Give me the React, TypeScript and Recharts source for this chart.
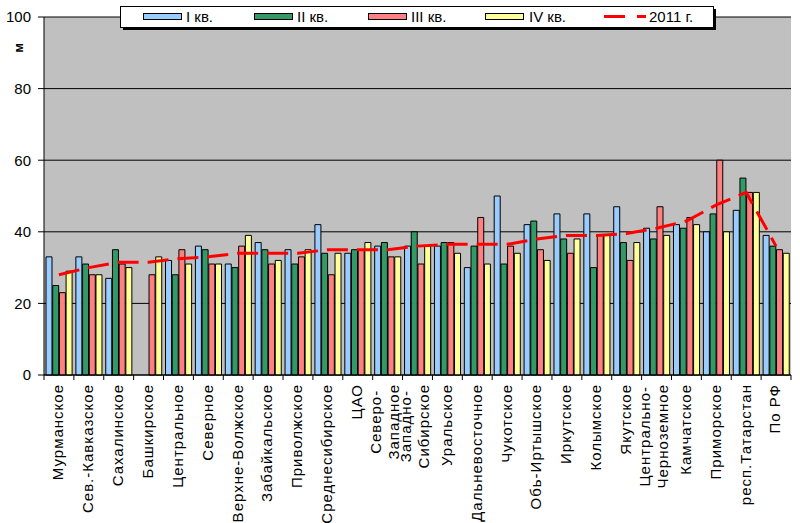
import React from 'react';
import { ComposedChart, Bar, Line, XAxis, YAxis, CartesianGrid } from 'recharts';

const FONT = "'Liberation Sans', Arial, sans-serif";
const LABEL_SIZE = 15;
const LABEL_SPACING = 1;

// categories (\n = line break in the axis label)
const categories = [
  'Мурманское', 'Сев.-Кавказское', 'Сахалинское', 'Башкирское', 'Центральное',
  'Северное', 'Верхне-Волжское', 'Забайкальское', 'Приволжское', 'Среднесибирское',
  'ЦАО', 'Северо-\nЗападное', 'Западно-\nСибирское', 'Уральское', 'Дальневосточное',
  'Чукотское', 'Обь-Иртышское', 'Иркутское', 'Колымское', 'Якутское',
  'Центрально-\nЧерноземное', 'Камчатское', 'Приморское', 'респ.Татарстан', 'По РФ',
];

const q1 = [33, 33, 27, null, 32, 36, 31, 37, 35, 42, 34, 36, 36, 36, 30, 50, 42, 45, 45, 47, 41, 42, 40, 46, 39];
const q2 = [25, 31, 35, null, 28, 35, 30, 35, 31, 34, 35, 37, 40, 37, 36, 31, 43, 38, 30, 37, 38, 41, 45, 55, 36];
const q3 = [23, 28, 31, 28, 35, 31, 36, 31, 33, 28, 35, 33, 31, 37, 44, 36, 35, 34, 39, 32, 47, 44, 60, 51, 35];
const q4 = [29, 28, 30, 33, 31, 31, 39, 32, 35, 34, 37, 33, 36, 34, 31, 34, 32, 38, 39, 37, 39, 42, 40, 51, 34];
const y2011 = [28, 30, 31.5, 31.5, 32.5, 33, 34, 34, 34, 35, 35, 35, 36, 36.5, 36.5, 36.5, 38, 39, 39, 39.5, 41, 43, 47.5, 51, 36];

const yTicks = [0, 20, 40, 60, 80, 100];

const seriesNames = ['I кв.', 'II кв.', 'III кв.', 'IV кв.', '2011 г.'];
const COLORS = ['#99CCFF', '#339966', '#FF8080', '#FFFF99', '#FF0000'];

const data = categories.map((name, i) => ({
  name,
  q1: q1[i],
  q2: q2[i],
  q3: q3[i],
  q4: q4[i],
  y2011: y2011[i],
}));

let ctx: CanvasRenderingContext2D | null = null;
const textWidth = (s: string) => {
  if (!ctx) ctx = document.createElement('canvas').getContext('2d');
  const extra = s.length * LABEL_SPACING;
  if (!ctx) return s.length * 9 + extra;
  ctx.font = `${LABEL_SIZE}px ${FONT}`;
  return ctx.measureText(s).width + extra;
};

// rotated category label + tick marks on the category boundaries
const CategoryTick = (props: any) => {
  const { x, y, payload, width, visibleTicksCount, index } = props;
  const band = width / visibleTicksCount;
  const lines = String(payload.value).split('\n');
  const top = y + 9;
  const longest = Math.max(...lines.map(textWidth));
  return (
    <g>
      <line x1={x - band / 2} x2={x - band / 2} y1={y} y2={y + 5} stroke="#000" />
      {index === visibleTicksCount - 1 && (
        <line x1={x + band / 2} x2={x + band / 2} y1={y} y2={y + 5} stroke="#000" />
      )}
      {lines.map((line, i) => {
        const lx = lines.length > 1 ? x + (i - (lines.length - 1) / 2) * 18 - 3 : x - 1;
        const ty = lines.length > 1 ? top + longest / 2 : top;
        return (
          <text
            key={i}
            x={lx}
            y={ty}
            dy="0.36em"
            transform={`rotate(-90 ${lx} ${ty})`}
            textAnchor={lines.length > 1 ? 'middle' : 'end'}
            fontSize={LABEL_SIZE}
            letterSpacing={LABEL_SPACING}
            fontFamily={FONT}
            fill="#000"
          >
            {line}
          </text>
        );
      })}
    </g>
  );
};

const Legend = () => {
  const swatchX = [143, 254, 368, 485];
  const textX = [186, 297, 411, 529];
  return (
    <svg width={800} height={40} style={{ position: 'absolute', left: 0, top: 0 }}>
      <rect x={123} y={9} width={593} height={21} fill="#000" />
      <rect x={120.5} y={6.5} width={593} height={21} fill="#fff" stroke="#000" />
      {swatchX.map((sx, i) => (
        <g key={i}>
          <rect x={sx + 0.5} y={13.5} width={38} height={6} fill={COLORS[i]} stroke="#000" />
          <text x={textX[i]} y={21.5} fontSize={15} fontFamily={FONT} fill="#000">
            {seriesNames[i]}
          </text>
        </g>
      ))}
      <line x1={604} x2={646} y1={16.5} y2={16.5} stroke={COLORS[4]} strokeWidth={3} strokeDasharray="21 12" />
      <text x={649} y={21.5} fontSize={15} fontFamily={FONT} fill="#000">
        {seriesNames[4]}
      </text>
    </svg>
  );
};

export default function App() {
  return (
    <div style={{ position: 'absolute', left: 0, top: 0, width: 800, height: 523, background: '#fff' }}>
      <ComposedChart
        width={800}
        height={523}
        data={data}
        margin={{ top: 17, right: 9, bottom: 8, left: 0 }}
        barGap={0.7}
      >
        <CartesianGrid vertical={false} stroke="#000" fill="#C0C0C0" fillOpacity={1} />
        <XAxis
          dataKey="name"
          height={140}
          interval={0}
          tickLine={false}
          tickSize={0}
          tickMargin={0}
          axisLine={{ stroke: '#000' }}
          tick={<CategoryTick />}
        />
        <XAxis
          xAxisId="top"
          dataKey="name"
          orientation="top"
          height={0}
          tick={false}
          tickLine={false}
          axisLine={{ stroke: '#808080' }}
        />
        <YAxis
          domain={[0, 100]}
          ticks={yTicks}
          width={44}
          interval={0}
          tickSize={6}
          tickMargin={7}
          axisLine={{ stroke: '#000' }}
          tickLine={{ stroke: '#000' }}
          tick={{ fill: '#000', fontSize: 15, fontFamily: FONT }}
          label={{
            content: () => (
              <text
                x={23}
                y={48}
                transform="rotate(-90 23 48)"
                textAnchor="middle"
                fontSize={13}
                fontWeight="bold"
                fontFamily={FONT}
                fill="#000"
              >
                м
              </text>
            ),
          }}
        />
        <YAxis
          yAxisId="right"
          orientation="right"
          domain={[0, 100]}
          width={0}
          tick={false}
          tickLine={false}
          axisLine={{ stroke: '#808080' }}
        />
        <Bar dataKey="q1" name={seriesNames[0]} fill={COLORS[0]} stroke="#000" barSize={6} isAnimationActive={false} />
        <Bar dataKey="q2" name={seriesNames[1]} fill={COLORS[1]} stroke="#000" barSize={6} isAnimationActive={false} />
        <Bar dataKey="q3" name={seriesNames[2]} fill={COLORS[2]} stroke="#000" barSize={6} isAnimationActive={false} />
        <Bar dataKey="q4" name={seriesNames[3]} fill={COLORS[3]} stroke="#000" barSize={6} isAnimationActive={false} />
        <Line
          dataKey="y2011"
          name={seriesNames[4]}
          stroke={COLORS[4]}
          strokeWidth={3}
          strokeDasharray="21 9"
          dot={false}
          activeDot={false}
          isAnimationActive={false}
        />
      </ComposedChart>
      <Legend />
    </div>
  );
}
